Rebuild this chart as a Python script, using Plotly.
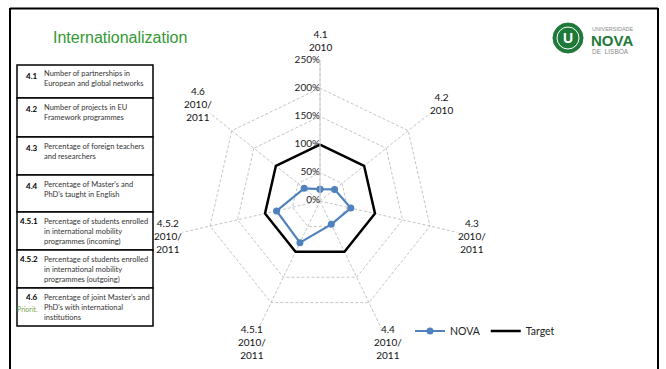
import math
import plotly.graph_objects as go

W, H = 666, 369

# ---- data -----------------------------------------------------------------
categories = ["4.1", "4.2", "4.3", "4.4", "4.5.1", "4.5.2", "4.6"]
axis_periods = ["2010", "2010", "2010/<br>2011", "2010/<br>2011",
                "2010/<br>2011", "2010/<br>2011", "2010/<br>2011"]
nova_values = [0.21, 0.33, 0.56, 0.46, 0.82, 0.79, 0.36]
target_values = [1.0, 1.0, 1.0, 1.0, 1.0, 1.0, 1.0]
radial_ticks = [0, 0.5, 1.0, 1.5, 2.0, 2.5]
radial_tick_labels = ["0%", "50%", "100%", "150%", "200%", "250%"]

indicator_ids = ["4.1", "4.2", "4.3", "4.4", "4.5.1", "4.5.2", "4.6"]
indicator_texts = [
    "Number of partnerships in<br>European and global networks",
    "Number of projects in EU<br>Framework programmes",
    "Percentage of foreign teachers<br>and researchers",
    "Percentage of Master's and<br>PhD's taught in English",
    "Percentage of students enrolled<br>in international mobility<br>programmes (incoming)",
    "Percentage of students enrolled<br>in international mobility<br>programmes (outgoing)",
    "Percentage of joint Master's and<br>PhD's with international<br>institutions",
]


def px(x):
    return x / W


def py(y):
    return 1 - y / H


FONT = "Lato, 'Open Sans', sans-serif"
GREEN = "#1F7A3A"
GRID = "#C4C4C4"

# radar geometry (pixels)
CX, CY, R = 320, 201, 141

fig = go.Figure()

closed_theta = categories + categories[:1]
fig.add_trace(go.Scatterpolar(
    r=nova_values + nova_values[:1], theta=closed_theta, name="NOVA",
    mode="lines+markers",
    line=dict(color="#4F81BD", width=2.2),
    marker=dict(color="#4F81BD", size=7),
))
fig.add_trace(go.Scatterpolar(
    r=target_values + target_values[:1], theta=closed_theta, name="Target",
    mode="lines",
    line=dict(color="#000000", width=2.5),
))
# percentage labels along the first spoke (the centre label is nudged off r=0
# so that it keeps a direction to sit beside)
fig.add_trace(go.Scatterpolar(
    r=[max(t, 0.005) for t in radial_ticks],
    theta=[categories[0]] * len(radial_ticks),
    mode="text", text=radial_tick_labels, textposition="middle left",
    textfont=dict(family=FONT, size=10, color="#222222"),
    showlegend=False, hoverinfo="skip", cliponaxis=False,
))

fig.update_layout(
    width=W, height=H,
    margin=dict(l=0, r=0, t=0, b=0),
    paper_bgcolor="white",
    showlegend=True,
    legend=dict(
        orientation="h", x=px(410), y=py(331), xanchor="left", yanchor="middle",
        font=dict(family=FONT, size=10.5, color="#222222"),
        bgcolor="rgba(0,0,0,0)", itemwidth=30, tracegroupgap=0,
    ),
    polar=dict(
        domain=dict(x=[px(CX - R), px(CX + R)], y=[py(CY + R), py(CY - R)]),
        bgcolor="white",
        gridshape="linear",
        radialaxis=dict(
            range=[0, 2.5], tickvals=radial_ticks, showticklabels=False,
            ticks="", showline=True, linecolor="#D0D0D0", linewidth=1,
            gridcolor=GRID, gridwidth=1, griddash="3px,2px", angle=90,
        ),
        angularaxis=dict(
            type="category", categoryarray=categories, rotation=90,
            direction="clockwise", showticklabels=False, ticks="",
            showline=False, gridcolor=GRID, gridwidth=1, griddash="3px,2px",
        ),
    ),
)

annotations = []

# spoke labels around the radar
n = len(categories)
for k, (cat, per) in enumerate(zip(categories, axis_periods)):
    a = 2 * math.pi * k / n
    label_r = 161 if k == 0 else 156
    x = CX + label_r * math.sin(a)
    y = CY - label_r * math.cos(a)
    annotations.append(dict(
        x=px(x), y=py(y), xref="paper", yref="paper", showarrow=False,
        text=f"{cat}<br>{per}", align="center", xanchor="center", yanchor="middle",
        font=dict(family=FONT, size=10, color="#111111"),
    ))

# title
annotations.append(dict(
    x=px(51), y=py(37), xref="paper", yref="paper", showarrow=False,
    text="Internationalization", xanchor="left", yanchor="middle",
    font=dict(family="Liberation Sans, Arial, sans-serif", size=16, color="#339933"),
))

# logo text
annotations += [
    dict(x=px(590), y=py(29), text="UNIVERSIDADE", xanchor="left", yanchor="middle",
         font=dict(family="Liberation Sans, Arial", size=5.5, color="#8A8A8A")),
    dict(x=px(589), y=py(40.5), text="<b>NOVA</b>", xanchor="left", yanchor="middle",
         font=dict(family="Liberation Sans, Arial", size=15, color=GREEN)),
    dict(x=px(590), y=py(52), text="DE  LISBOA", xanchor="left", yanchor="middle",
         font=dict(family="Liberation Sans, Arial", size=6.5, color="#8A8A8A")),
    dict(x=px(568), y=py(38), text="<b>U</b>", xanchor="center", yanchor="middle",
         font=dict(family="Liberation Sans, Arial", size=14, color="white")),
]
for a in annotations[-4:]:
    a.update(xref="paper", yref="paper", showarrow=False)

shapes = []

# slide frame
frame = dict(type="line", xref="paper", yref="paper", line=dict(color="black", width=2))
shapes.append(dict(frame, x0=px(10), x1=px(658), y0=py(8.5), y1=py(8.5)))
shapes.append(dict(frame, x0=px(10), x1=px(10), y0=py(8), y1=py(369)))
shapes.append(dict(frame, x0=px(658), x1=px(658), y0=py(8), y1=py(369)))

# logo emblem
shapes.append(dict(type="circle", xref="paper", yref="paper",
                   x0=px(553), x1=px(583), y0=py(53), y1=py(23),
                   fillcolor=GREEN, line=dict(color=GREEN, width=1)))
shapes.append(dict(type="circle", xref="paper", yref="paper",
                   x0=px(557), x1=px(579), y0=py(49), y1=py(27),
                   fillcolor="rgba(0,0,0,0)", line=dict(color="white", width=1)))

# indicator legend table
row_edges = [65, 98, 137, 175, 212, 250, 288, 326]
for i, (iid, txt) in enumerate(zip(indicator_ids, indicator_texts)):
    top, bot = row_edges[i], row_edges[i + 1]
    shapes.append(dict(type="rect", xref="paper", yref="paper",
                       x0=px(17), x1=px(153), y0=py(bot), y1=py(top),
                       line=dict(color="black", width=1.5), fillcolor="white",
                       layer="below"))
    three_lines = txt.count("<br>") == 2
    annotations.append(dict(
        x=px(40), y=py(top + (9 if three_lines else 11)), xref="paper", yref="paper",
        showarrow=False, text=f"<b>{iid}</b>", xanchor="right", yanchor="middle",
        font=dict(family=FONT, size=8, color="black"),
    ))
    annotations.append(dict(
        x=px(42), y=py(top + 2.5), xref="paper", yref="paper", showarrow=False,
        text=txt, align="left", xanchor="left", yanchor="top",
        font=dict(family=FONT, size=7.5, color="#333333"),
    ))

annotations.append(dict(
    x=px(40), y=py(309), xref="paper", yref="paper", showarrow=False,
    text="Priorit.", xanchor="right", yanchor="middle",
    font=dict(family=FONT, size=7, color="#7BA34A"),
))

fig.update_layout(annotations=annotations, shapes=shapes)

fig.write_html("out.html")
